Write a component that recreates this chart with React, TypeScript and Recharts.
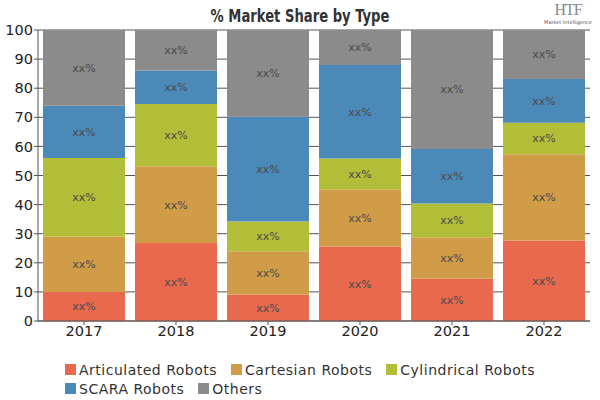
import React from 'react';
import { BarChart, Bar, XAxis, YAxis, CartesianGrid, LabelList } from 'recharts';

const years = ['2017', '2018', '2019', '2020', '2021', '2022'];
const articulated = [10, 26.8, 9, 25.6, 14.5, 27.7];
const cartesian = [19, 26.4, 15, 19.7, 14.3, 29.6];
const cylindrical = [27, 21.4, 10.2, 10.5, 11.6, 10.8];
const scara = [18, 11.5, 36, 32.2, 18.7, 15.1];
const others = [26, 13.9, 29.8, 12, 40.9, 16.8];
const yTicks = [0, 10, 20, 30, 40, 50, 60, 70, 80, 90, 100];
const seriesKeys = ['articulated', 'cartesian', 'cylindrical', 'scara', 'others'];
const seriesNames = ['Articulated Robots', 'Cartesian Robots', 'Cylindrical Robots', 'SCARA Robots', 'Others'];
const segmentLabel = 'xx%';
const title = '% Market Share by Type';

const COLORS = ['#E8694E', '#D09C48', '#B3BE38', '#4B8AB8', '#8B8B8B'];

const seriesValues = [articulated, cartesian, cylindrical, scara, others];
const data = years.map((y, i) => {
  const row: Record<string, any> = { year: y };
  seriesKeys.forEach((k, s) => {
    row[k] = seriesValues[s][i];
  });
  return row;
});

const tickFont = { fontFamily: 'DejaVu Sans, sans-serif', fontSize: 14.5, fill: '#222' };

export default function App() {
  return (
    <div style={{ position: 'absolute', left: 0, top: 0, width: 600, height: 400, background: '#fff', overflow: 'hidden' }}>
      <div
        style={{
          position: 'absolute',
          left: 0,
          top: 6,
          width: 600,
          textAlign: 'center',
          fontFamily: '"DejaVu Sans Condensed", "DejaVu Sans", sans-serif',
          fontWeight: 'bold',
          fontSize: 17,
          color: '#333',
          transform: 'scaleX(0.86)',
          transformOrigin: '300px 0',
        }}
      >
        {title}
      </div>
      <div style={{ position: 'absolute', left: 540, top: 1, width: 56, textAlign: 'center', color: '#8a8a8a' }}>
        <div style={{ fontFamily: '"Liberation Serif", serif', fontSize: 16, lineHeight: '18px', letterSpacing: -1 }}>HTF</div>
        <div style={{ fontFamily: 'DejaVu Sans, sans-serif', fontSize: 5, lineHeight: '6px', color: '#556' }}>Market Intelligence</div>
      </div>
      <BarChart
        width={600}
        height={400}
        data={data}
        margin={{ top: 30, right: 10, bottom: 49, left: 0 }}
        barCategoryGap={5}
      >
        <CartesianGrid vertical={false} stroke="#555" strokeOpacity={1} />
        <XAxis
          dataKey="year"
          tick={tickFont}
          axisLine={{ stroke: '#555' }}
          tickLine={{ stroke: '#555' }}
          tickSize={4}
          tickMargin={1}
          height={30}
        />
        <YAxis
          width={38}
          domain={[0, 100]}
          ticks={yTicks}
          interval={0}
          tick={tickFont}
          axisLine={{ stroke: '#555' }}
          tickLine={{ stroke: '#555' }}
          tickSize={4}
          tickMargin={1}
        />
        {seriesKeys.map((k, s) => (
          <Bar key={k} dataKey={k} name={seriesNames[s]} stackId="a" fill={COLORS[s]} isAnimationActive={false}>
            <LabelList
              dataKey={k}
              position="center"
              formatter={() => segmentLabel}
              style={{ fontFamily: 'DejaVu Sans, sans-serif', fontSize: 11, fill: '#4a4a4a' }}
            />
          </Bar>
        ))}
      </BarChart>
      <div
        style={{
          position: 'absolute',
          left: 65,
          top: 361,
          width: 500,
          display: 'flex',
          flexWrap: 'wrap',
          fontFamily: 'DejaVu Sans, sans-serif',
          fontSize: 14,
          letterSpacing: 0.5,
          color: '#333',
          rowGap: 2,
        }}
      >
        {seriesNames.map((n, s) => (
          <div key={n} style={{ display: 'flex', alignItems: 'center', marginRight: 14, height: 17 }}>
            <span style={{ display: 'inline-block', width: 11, height: 11, background: COLORS[s], marginRight: 3 }} />
            <span>{n}</span>
          </div>
        ))}
      </div>
    </div>
  );
}
